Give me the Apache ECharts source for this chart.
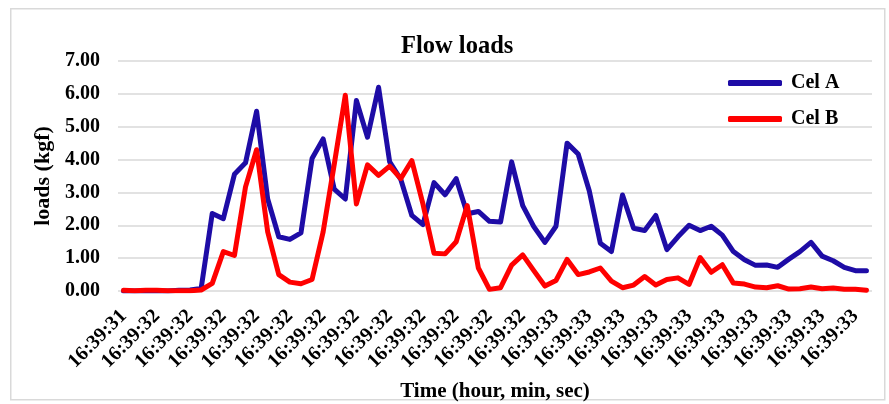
<!DOCTYPE html>
<html>
<head>
<meta charset="utf-8">
<script src="https://cdn.jsdelivr.net/npm/echarts@6/dist/echarts.min.js"></script>
<style>
html,body{margin:0;padding:0;background:#fff;}
#chart{width:889px;height:404px;}
</style>
</head>
<body>
<div id="chart"></div>
<script>
// Time stamps (one per sample)
const timeSec = [
  '31','31','31',
  '32','32','32','32','32','32','32','32','32','32','32','32','32','32','32','32','32','32','32','32',
  '32','32','32','32','32','32','32','32','32','32','32','32','32','32','32','32',
  '33','33','33','33','33','33','33','33','33','33','33','33','33','33','33','33','33','33','33','33',
  '33','33','33','33','33','33','33','33','33'
];
const categories = timeSec.map(s => '16:39:' + s);

const celA = [0,0,0,0,0,0.02,0.03,0.08,2.36,2.2,3.55,3.9,5.47,2.8,1.65,1.57,1.77,4.03,4.63,3.1,
  2.8,5.8,4.68,6.2,3.93,3.4,2.3,2.02,3.3,2.93,3.42,2.35,2.42,2.12,2.1,3.93,2.6,1.96,1.48,1.97,
  4.5,4.17,3.05,1.45,1.2,2.92,1.91,1.84,2.3,1.26,1.65,2.0,1.84,1.97,1.7,1.2,0.95,0.78,0.79,0.72,
  0.97,1.2,1.48,1.06,0.92,0.72,0.62,0.62];

const celB = [0.02,0.01,0.02,0.02,0.01,0.01,0.01,0.03,0.23,1.2,1.08,3.17,4.3,1.8,0.5,0.27,0.22,0.35,1.8,3.85,
  5.96,2.65,3.84,3.52,3.8,3.42,3.97,2.65,1.15,1.13,1.5,2.6,0.7,0.05,0.1,0.79,1.1,0.62,0.15,0.32,
  0.96,0.5,0.58,0.7,0.3,0.1,0.18,0.44,0.18,0.35,0.4,0.2,1.02,0.57,0.8,0.24,0.21,0.12,0.1,0.16,
  0.06,0.07,0.12,0.07,0.09,0.05,0.05,0.02];

const seriesNames = ['Cel A', 'Cel B'];
const colors = ['#1e0ca6', '#ff0000'];

const FONT = "'Liberation Serif','Times New Roman',serif";
const chart = echarts.init(document.getElementById('chart'), null, {renderer: 'canvas'});
chart.setOption({
  animation: false,
  backgroundColor: '#fff',
  graphic: [{
    type: 'rect', left: 10, top: 8, z: -1,
    shape: {width: 874, height: 391},
    style: {fill: '#fff', stroke: '#d9d9d9', lineWidth: 1.5}
  }],
  title: {
    text: 'Flow loads', left: 396, top: 29,
    textStyle: {fontFamily: FONT, fontWeight: 'bold', fontSize: 24.5, color: '#000'}
  },
  legend: {
    orient: 'vertical', left: 723, top: 68, itemGap: 16,
    itemWidth: 54, itemHeight: 6, icon: 'roundRect',
    textStyle: {fontFamily: FONT, fontWeight: 'bold', fontSize: 20, color: '#000', padding: [0,0,0,4]},
    data: seriesNames
  },
  grid: {left: 118, right: 17, top: 61, bottom: 113, containLabel: false, outerBoundsMode: 'none'},
  xAxis: {
    type: 'category', data: categories, boundaryGap: true,
    name: 'Time (hour, min, sec)', nameLocation: 'middle', nameGap: 90,
    nameTextStyle: {fontFamily: FONT, fontWeight: 'bold', fontSize: 21, color: '#000'},
    axisLine: {show: false}, axisTick: {show: false},
    axisLabel: {interval: 2, rotate: 45, margin: 22, fontFamily: FONT, fontWeight: 'bold', fontSize: 20, color: '#000'}
  },
  yAxis: {
    type: 'value', min: 0, max: 7, interval: 1,
    name: 'loads (kgf)', nameLocation: 'middle', nameGap: 61,
    nameTextStyle: {fontFamily: FONT, fontWeight: 'bold', fontSize: 22, color: '#000'},
    axisLine: {show: false}, axisTick: {show: false},
    splitLine: {lineStyle: {color: '#d9d9d9', width: 1.5}},
    axisLabel: {margin: 18, formatter: v => v.toFixed(2), fontFamily: FONT, fontWeight: 'bold', fontSize: 20, color: '#000'}
  },
  series: [
    {name: seriesNames[0], type: 'line', data: celA, symbol: 'none', color: colors[0],
     lineStyle: {width: 5, color: colors[0], cap: 'round', join: 'round'}},
    {name: seriesNames[1], type: 'line', data: celB, symbol: 'none', color: colors[1],
     lineStyle: {width: 5, color: colors[1], cap: 'round', join: 'round'}}
  ]
});
</script>
</body>
</html>
